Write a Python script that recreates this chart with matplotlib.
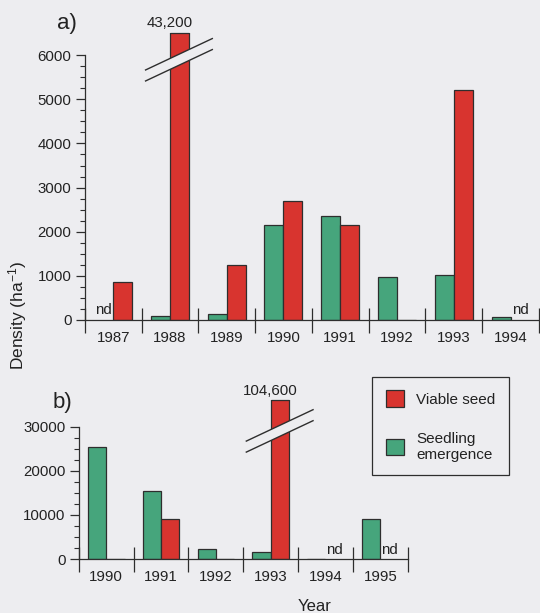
import matplotlib
matplotlib.use("Agg")
import matplotlib.pyplot as plt
import numpy as np
from matplotlib.patches import Patch, Polygon
from matplotlib.ticker import FixedLocator

plt.rcParams['font.family'] = ['Liberation Sans', 'DejaVu Sans']
plt.rcParams['mathtext.default'] = 'regular'

# panel a) 1987-1994
years_a = ['1987', '1988', '1989', '1990', '1991', '1992', '1993', '1994']
seed_a = [870, 43200, 1245, 2700, 2150, 0, 5220, np.nan]
seedling_a = [np.nan, 98, 128, 2150, 2355, 966, 1020, 75]

# panel b) 1990-1995
years_b = ['1990', '1991', '1992', '1993', '1994', '1995']
seed_b = [0, 9120, 0, 104600, np.nan, np.nan]
seedling_b = [25400, 15450, 2190, 1580, 0, 9050]

BG = '#ededf0'
RED = '#d8342f'
GREEN = '#46a57c'
EDGE = '#2e2e2e'
INK = '#222222'
W = 0.335
FS = 10.8


def break_mark(ax, x, y):
    # two slanted strokes with a band of background between them, in pixels
    cx, cy = ax.transData.transform((x, y))
    inv = ax.transData.inverted()
    run0, run1, slope, gap = -25, 43, 32 / 68, 11
    xs = np.array([cx + run0, cx + run1])
    up = cy + gap / 2 + slope * (xs - cx)
    lo = cy - gap / 2 + slope * (xs - cx)
    upper = inv.transform(np.column_stack([xs, up]))
    lower = inv.transform(np.column_stack([xs, lo]))
    band = np.vstack([upper, lower[::-1]])
    ax.add_patch(Polygon(band, closed=True, fc=BG, ec='none', zorder=4, clip_on=False))
    for seg in (upper, lower):
        ax.plot(seg[:, 0], seg[:, 1], color=EDGE, lw=1.0, zorder=5, clip_on=False,
                solid_capstyle='butt')


def panel(ax, years, seed, seedling, cap, top_tick, major, minor, brk_y):
    n = len(years)
    x = np.arange(n)
    seed = np.array(seed, dtype=float)
    seedling = np.array(seedling, dtype=float)

    ax.set_facecolor('none')
    ax.bar(x - W / 2, seedling, W, color=GREEN, edgecolor=EDGE, lw=0.9, zorder=2)
    ax.bar(x + W / 2, seed, W, color=RED, edgecolor=EDGE, lw=0.9, zorder=2)
    ax.set_xlim(-0.5, n - 0.5)
    ax.set_ylim(0, cap)

    for s in ('top', 'right'):
        ax.spines[s].set_visible(False)
    for s in ('left', 'bottom'):
        ax.spines[s].set_color(EDGE)
        ax.spines[s].set_linewidth(0.9)
    ax.spines['left'].set_bounds(0, top_tick)

    ax.yaxis.set_major_locator(FixedLocator(np.arange(0, top_tick + 1, major)))
    ax.yaxis.set_minor_locator(FixedLocator(np.arange(0, top_tick + 1, minor)))
    ax.tick_params(axis='y', which='major', direction='out', length=6.5, width=0.9,
                   color=EDGE, labelsize=FS, labelcolor=INK, pad=3)
    ax.tick_params(axis='y', which='minor', direction='out', length=3.5, width=0.8,
                   color=EDGE)

    # year separators cross the axis; year names sit on the minor ticks
    ax.xaxis.set_major_locator(FixedLocator(np.arange(-0.5, n, 1.0)))
    ax.xaxis.set_minor_locator(FixedLocator(x))
    ax.xaxis.set_major_formatter(plt.NullFormatter())
    ax.set_xticks(x, years, minor=True)
    ax.tick_params(axis='x', which='major', direction='inout', length=18, width=0.9,
                   color=EDGE)
    ax.tick_params(axis='x', which='minor', length=0, labelsize=FS,
                   labelcolor=INK, pad=8)

    for i in range(n):
        if np.isnan(seedling[i]):
            ax.text(x[i] - W / 2, cap * 0.012, 'nd', ha='center', va='bottom',
                    fontsize=FS, color=INK)
        if np.isnan(seed[i]):
            ax.text(x[i] + W / 2, cap * 0.012, 'nd', ha='center', va='bottom',
                    fontsize=FS, color=INK)
        elif seed[i] > cap:
            ax.hlines(cap, x[i], x[i] + W, color=EDGE, lw=0.9, zorder=3, clip_on=False)
            ax.text(x[i], cap * 1.012, f'{int(seed[i]):,}', ha='center', va='bottom',
                    fontsize=FS, color=INK)
            break_mark(ax, x[i], brk_y)


fig = plt.figure(figsize=(5.4, 6.13), dpi=100, facecolor=BG)
ax_a = fig.add_axes([0.157, 0.478, 0.841, 0.468])
ax_b = fig.add_axes([0.146, 0.088, 0.609, 0.259])

panel(ax_a, years_a, seed_a, seedling_a, 6500, 6000, 1000, 250, 5800)
panel(ax_b, years_b, seed_b, seedling_b, 36000, 30000, 10000, 2500, 28100)

fig.text(0.124, 0.962, 'a)', fontsize=16, color=INK, ha='center', va='center')
fig.text(0.115, 0.344, 'b)', fontsize=16, color=INK, ha='center', va='center')
fig.text(0.033, 0.486, 'Density (ha$^{-1}$)', rotation=90, fontsize=12.5, color=INK,
         ha='center', va='center')
fig.text(0.583, 0.011, 'Year', fontsize=12, color=INK, ha='center', va='center')

handles = [Patch(fc=RED, ec=EDGE, lw=0.9), Patch(fc=GREEN, ec=EDGE, lw=0.9)]
leg = fig.legend(handles, ['Viable seed', 'Seedling\nemergence'], loc='upper left',
                 bbox_to_anchor=(0.689, 0.3855), borderaxespad=0, fontsize=11,
                 frameon=True, fancybox=False, framealpha=1, facecolor=BG,
                 edgecolor=EDGE, borderpad=0.9, handlelength=1.2, handleheight=1.3,
                 handletextpad=0.8, labelspacing=1.6)
leg.get_frame().set_linewidth(0.9)
for t in leg.get_texts():
    t.set_color(INK)

fig.savefig('out.png', dpi=100, facecolor=BG)
